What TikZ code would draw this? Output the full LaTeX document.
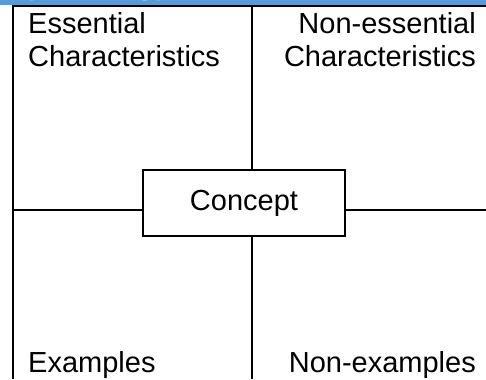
\documentclass[tikz,border=0pt]{standalone}
\usepackage{fontspec}
\setmainfont{Liberation Sans}
\definecolor{bandblue}{HTML}{5B9BD5}
\begin{document}
\begin{tikzpicture}[x=1bp,y=-1bp,
  rule/.style={line width=2bp,black},
  lbl/.style={inner sep=0pt,font=\fontsize{29bp}{33bp}\selectfont},
  conceptbox/.style={draw,line width=1.3bp,minimum width=202bp,minimum height=66bp,inner sep=0pt,font=\fontsize{29bp}{33bp}\selectfont}]
\useasboundingbox (0,0) rectangle (486,379);
% blue title band
\fill[bandblue] (0,0) rectangle (486,5);
\begin{scope}
\clip (0,0) rectangle (486,5);
\node[lbl,anchor=base west,text=white,font=\bfseries\fontsize{30bp}{32bp}\selectfont] (t1) at (28,-6) {y};
\node[lbl,anchor=base west,text=white,font=\bfseries\fontsize{30bp}{32bp}\selectfont] (t2) at (136,-6) {gy};
\end{scope}
% frame
\coordinate (tl) at (13,6);
\coordinate (tr) at (486,6);
\coordinate (bl) at (13,379);
\draw[rule] (tr) -- (tl) -- (bl);
% concept
\node[conceptbox] (c) at (244,203) {Concept};
\coordinate (mt) at (252,6);
\coordinate (mb) at (252,379);
\coordinate (ml) at (13,210);
\coordinate (mr) at (486,210);
\draw[rule] (mt) -- (mt |- c.north);
\draw[rule] (mb) -- (mb |- c.south);
\draw[rule] (ml) -- (ml -| c.west);
\draw[rule] (mr) -- (mr -| c.east);
% labels
\node[lbl,anchor=base west] (e1) at (28,33) {Essential};
\node[lbl,anchor=base west] (e2) at (28,66) {Characteristics};
\node[lbl,anchor=base east] (n1) at (476,33) {Non-essential};
\node[lbl,anchor=base east] (n2) at (476,66) {Characteristics};
\node[lbl,anchor=base west] (x1) at (28,372) {Examples};
\node[lbl,anchor=base east] (x2) at (476,372) {Non-examples};
\end{tikzpicture}
\end{document}
